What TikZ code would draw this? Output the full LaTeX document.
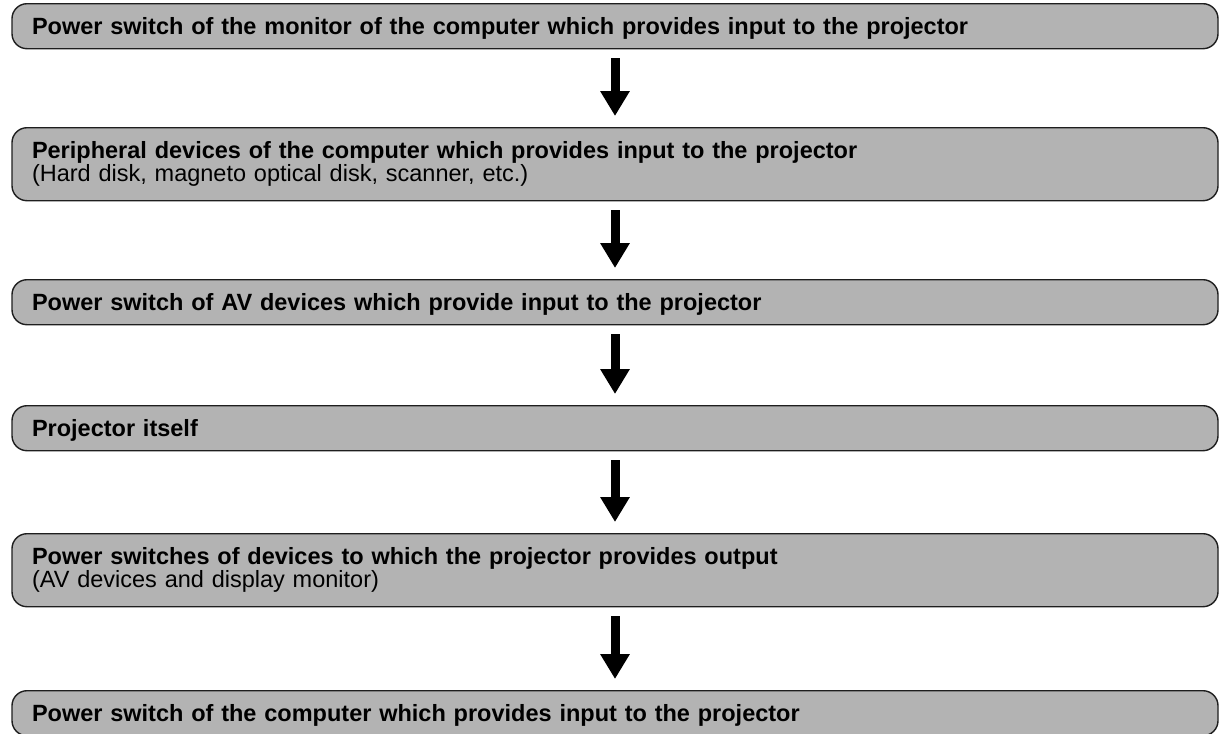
\documentclass[tikz,border=0pt]{standalone}
\usepackage{fontspec}
\setmainfont{Liberation Sans}
\usetikzlibrary{arrows.meta}
\definecolor{boxgray}{RGB}{179,179,179}
\definecolor{edgecol}{RGB}{30,30,30}
\begin{document}
\begin{tikzpicture}[x=1pt,y=-1pt,
  stepbox/.style={draw=edgecol, line width=1.4pt, fill=boxgray, rounded corners=15pt,
    anchor=north, text width=1166pt, inner xsep=20pt, inner ysep=14pt, align=left,
    text height=17pt, text depth=0pt, font=\fontsize{23.5}{21}\selectfont},
  twoline/.style={text depth=28pt},
  flow/.style={line width=9pt, -{Triangle[width=28pt,length=25pt]},
    shorten <=9pt, shorten >=11pt}]
\useasboundingbox (0,0) rectangle (1219,734);
\node[stepbox] (b1) at (615,3) {\textbf{Power switch of the monitor of the computer which provides input to the projector}};
\node[stepbox,twoline] (b2) at (615,127) {\textbf{Peripheral devices of the computer which provides input to the projector}\\(Hard disk, magneto optical disk, scanner, etc.)};
\node[stepbox] (b3) at (615,279) {\textbf{Power switch of AV devices which provide input to the projector}};
\node[stepbox] (b4) at (615,405) {\textbf{Projector itself}};
\node[stepbox,twoline] (b5) at (615,533) {\textbf{Power switches of devices to which the projector provides output}\\(AV devices and display monitor)};
\node[stepbox] (b6) at (615,690) {\textbf{Power switch of the computer which provides input to the projector}};
\draw[flow] (b1.south) -- (b2.north);
\draw[flow] (b2.south) -- (b3.north);
\draw[flow] (b3.south) -- (b4.north);
\draw[flow] (b4.south) -- (b5.north);
\draw[flow] (b5.south) -- (b6.north);
\end{tikzpicture}
\end{document}
